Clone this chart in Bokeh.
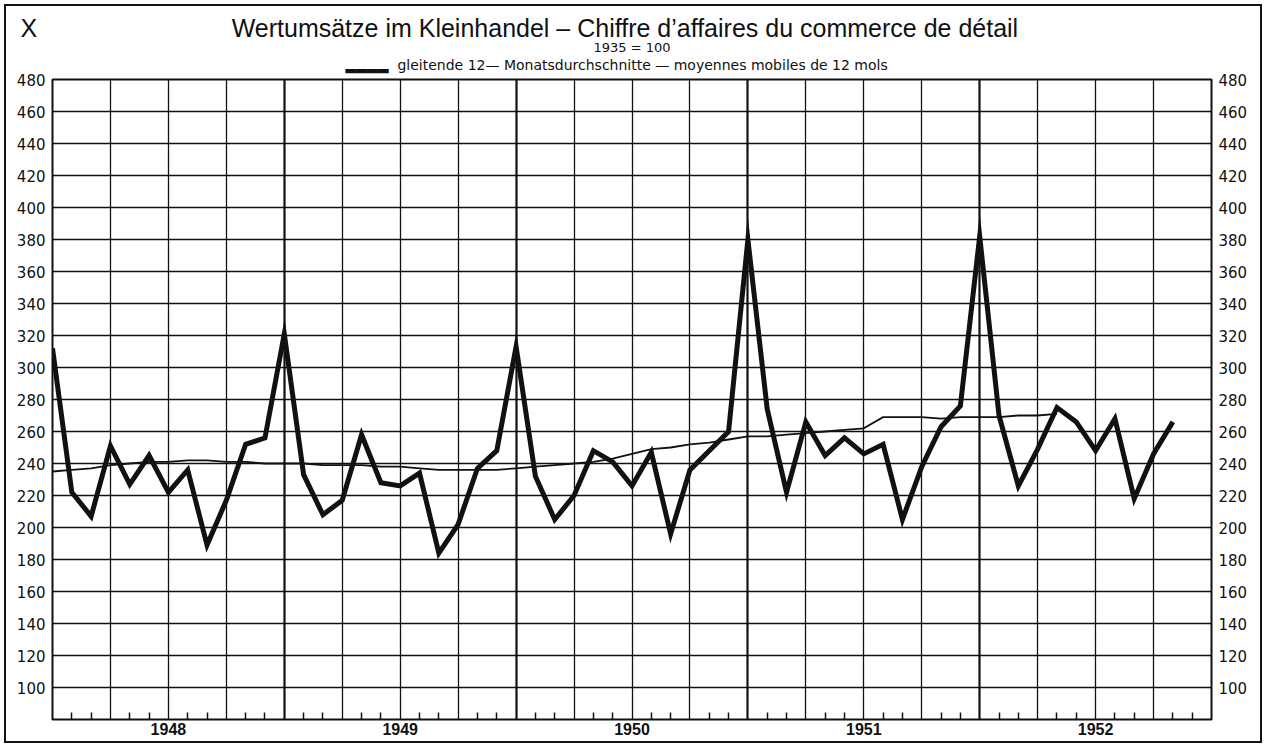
from bokeh.plotting import figure
from bokeh.layouts import column
from bokeh.models import Range1d, LinearAxis, FixedTicker, Grid, Title
from bokeh.embed import file_html
from bokeh.resources import INLINE

# month index: 0 = Dec 1947 ... 60 = Dec 1952
sales_months = list(range(0, 59))
sales = [312, 222, 207, 251, 227, 245, 222, 236, 189, 217, 252, 256,
         321, 233, 208, 217, 258, 228, 226, 234, 184, 202, 237, 248,
         313, 232, 205, 220, 248, 241, 226, 247, 196, 236, 248, 260,
         380, 274, 222, 266, 245, 256, 246, 252, 205, 238, 263, 276,
         382, 270, 226, 249, 275, 266, 248, 268, 218, 246, 266]

ma_months = list(range(0, 53))
moving_avg = [235, 236, 237, 239, 240, 241, 241, 242, 242, 241, 241, 240,
              240, 240, 239, 239, 239, 238, 238, 237, 236, 236, 236, 236,
              237, 238, 239, 240, 241, 243, 246, 249, 250, 252, 253, 255,
              257, 257, 258, 259, 260, 261, 262, 269, 269, 269, 268, 269,
              269, 269, 270, 270, 271]

year_labels = ["1948", "1949", "1950", "1951", "1952"]
year_label_pos = [6, 18, 30, 42, 54]
y_ticks = list(range(100, 481, 20))

NB = "\u00a0"
panel_mark = "X"
title_text = "Wertumsätze im Kleinhandel – Chiffre d\u2019affaires du commerce de détail"
base_text = "1935 = 100"
legend_text = "gleitende 12\u2014 Monatsdurchschnitte \u2014 moyennes mobiles de 12 mols"
legend_sample = "\u2582" * 4

INK = "#111111"
W = 1254
H = 735

p = figure(width=W, height=H, x_range=Range1d(0, 60), y_range=Range1d(80, 480),
           output_backend="svg", toolbar_location=None, title=None,
           min_border_left=46, min_border_right=49, min_border_top=73, min_border_bottom=22)
p.background_fill_color = "white"
p.border_fill_color = "white"
p.outline_line_color = INK
p.outline_line_width = 2

# x axis
p.xaxis.ticker = FixedTicker(ticks=year_label_pos,
                             minor_ticks=[m for m in range(1, 60) if m % 3 != 0])
p.xaxis.major_label_overrides = {pos: lab for pos, lab in zip(year_label_pos, year_labels)}
p.xaxis.major_tick_in = 0
p.xaxis.major_tick_out = 0
p.xaxis.minor_tick_in = 7
p.xaxis.minor_tick_out = 0
p.xaxis.minor_tick_line_color = INK
p.xaxis.minor_tick_line_width = 1.5
p.xaxis.axis_line_color = None
p.xaxis.major_label_standoff = 3
p.xaxis.major_label_text_font = "Liberation Sans"
p.xaxis.major_label_text_font_style = "bold"
p.xaxis.major_label_text_font_size = "16px"
p.xaxis.major_label_text_color = INK

# y axes
p.yaxis.ticker = FixedTicker(ticks=y_ticks)
right_axis = LinearAxis(ticker=FixedTicker(ticks=y_ticks))
p.add_layout(right_axis, "right")
for ax in p.yaxis:
    ax.major_tick_in = 0
    ax.major_tick_out = 0
    ax.minor_tick_line_color = None
    ax.axis_line_color = None
    ax.major_label_standoff = 7
    ax.major_label_text_font = "DejaVu Sans"
    ax.major_label_text_font_size = "15px"
    ax.major_label_text_color = INK
    ax.major_label_text_baseline = "alphabetic"

# grids
p.xgrid.ticker = FixedTicker(ticks=[m for m in range(3, 60, 3) if m % 12 != 0])
p.xgrid.grid_line_color = INK
p.xgrid.grid_line_width = 1.3
p.ygrid.ticker = FixedTicker(ticks=y_ticks)
p.ygrid.grid_line_color = INK
p.ygrid.grid_line_width = 1.3
year_grid = Grid(dimension=0, ticker=FixedTicker(ticks=[12, 24, 36, 48]),
                 grid_line_color=INK, grid_line_width=2.2)
p.add_layout(year_grid)

# data
p.line(ma_months, moving_avg, line_width=1.8, line_color=INK)
p.line(sales_months, sales, line_width=5, line_color=INK, line_join="miter")


def set_standoff(t, s):
    try:
        t.standoff = s
    except Exception:
        t.standoff = 0


# header rows, added from the frame outward
t_leg = Title(text=legend_sample + NB * 2 + legend_text, align="left", offset=293,
              text_font="DejaVu Sans", text_font_size="14px",
              text_font_style="normal", text_color=INK)
set_standoff(t_leg, 14)
p.add_layout(t_leg, "above")

t_base = Title(text=base_text, align="center", offset=7,
               text_font="DejaVu Sans", text_font_size="13px",
               text_font_style="normal", text_color=INK)
set_standoff(t_base, -15)
p.add_layout(t_base, "above")

t_main = Title(text=panel_mark + NB * 28 + title_text, align="left", offset=-32,
               text_font="Liberation Sans", text_font_size="25px",
               text_font_style="normal", text_color=INK)
set_standoff(t_main, 8)
p.add_layout(t_main, "above")

layout = column(p, spacing=0,
                styles={"border": "2px solid #111111", "margin": "4px"})

open("out.html", "w").write(file_html(layout, INLINE))
